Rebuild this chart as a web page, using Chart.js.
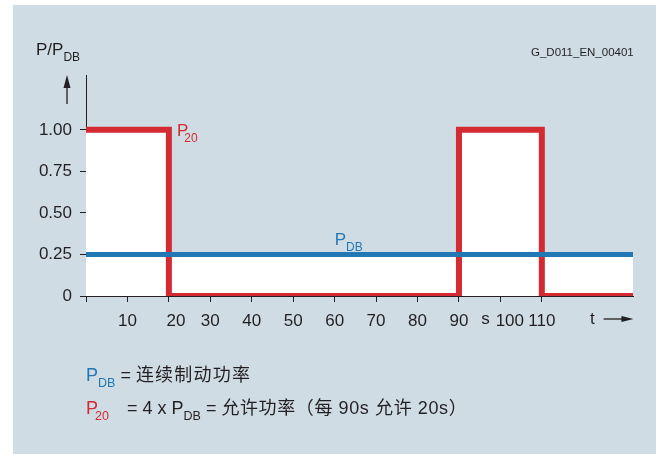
<!DOCTYPE html>
<html>
<head>
<meta charset="utf-8">
<script src="https://cdn.jsdelivr.net/npm/chart.js@4/dist/chart.umd.min.js"></script>
<style>
  body { margin: 0; background: #fff; }
  #bg { position: absolute; left: 13px; top: 5px; width: 643px; height: 449px; background: #cfdce4; }
  #wrap { position: absolute; left: 0; top: 0; width: 656px; height: 454px; }
  .txt { position: absolute; font-family: "Liberation Sans", "Noto Sans CJK SC", sans-serif; color: #231f20; white-space: nowrap; line-height: 1; }
  .sub { font-size: 12.5px; position: relative; top: 6px; }
  .sub20 { margin-left: -3px; }
</style>
</head>
<body>
<div id="bg"></div>
<div id="wrap"><canvas id="chart" width="656" height="454"></canvas></div>

<!-- Подписи вне области графика -->
<div class="txt" style="left:36px;top:41px;font-size:17px">P/P<span class="sub" style="font-size:12px">DB</span></div>
<div class="txt" style="left:531px;top:47px;font-size:11.5px">G_D011_EN_00401</div>
<div class="txt" style="left:86px;top:366px;font-size:18px"><span style="color:#2178b5">P<span class="sub">DB</span></span> = <span style="letter-spacing:1.2px">连续制动功率</span></div>
<div class="txt" style="left:86px;top:399px;font-size:18px;color:#d42a32">P<span class="sub sub20">20</span></div>
<div class="txt" style="left:127px;top:399px;font-size:18px">= 4 x P<span class="sub">DB</span> = <span style="letter-spacing:0.6px">允许功率（每 90s 允许 20s）</span></div>

<script>
// Данные графика
const timePoints = [0, 20, 90, 110, 132];
const p20 = [1, 0, 1, 0, 0];
const pdbTime = [0, 132];
const pdb = [0.25, 0.25];

const xTicks = [0, 10, 20, 30, 40, 50, 60, 70, 80, 90, 100, 110];
const xLabels = ["", "10", "   20", "30", "40", "50", "60", "70", "80", "90", "    100", "110"];
const yTicks = [0, 0.25, 0.5, 0.75, 1];
const yLabels = ["0", "0.25", "0.50", "0.75", "1.00"];

const RED = "#d42a32";
const BLUE = "#2178b5";
const INK = "#231f20";
const FONT = '"Liberation Sans", Arial, sans-serif';

// Белая заливка под max(P20, PDB)
const envelope = timePoints.map((t, i) => ({ x: t, y: Math.max(p20[i], pdb[0]) }));

// Подпись с нижним индексом
const drawSub = (ctx, x, y, main, sub, color, tuck) => {
  ctx.fillStyle = color;
  ctx.textBaseline = "alphabetic";
  ctx.textAlign = "left";
  ctx.font = `17px ${FONT}`;
  ctx.fillText(main, x, y);
  const w = ctx.measureText(main).width;
  ctx.font = `12px ${FONT}`;
  ctx.fillText(sub, x + w - tuck, y + 6);
};

const labelsPlugin = {
  id: "labels",
  afterDraw(chart) {
    const { ctx, scales: { x, y }, chartArea } = chart;
    ctx.save();
    drawSub(ctx, x.getPixelForValue(20) + 8, y.getPixelForValue(1) + 6, "P", "20", RED, 4);
    drawSub(ctx, x.getPixelForValue(60), y.getPixelForValue(0.25) - 9, "P", "DB", BLUE, 0);

    // единица времени и ось t
    const ty = x.top + 6 + 9;
    ctx.fillStyle = INK;
    ctx.font = `17px ${FONT}`;
    ctx.textAlign = "center";
    ctx.textBaseline = "top";
    ctx.fillText("s", x.getPixelForValue(96.4), ty);
    ctx.fillText("t", x.getPixelForValue(122.2), ty);

    const ay = ty + 8;
    const ax0 = x.getPixelForValue(124.9), ax1 = x.getPixelForValue(132.1);
    ctx.strokeStyle = INK;
    ctx.lineWidth = 1.3;
    ctx.beginPath();
    ctx.moveTo(ax0, ay);
    ctx.lineTo(ax1 - 8, ay);
    ctx.stroke();
    ctx.beginPath();
    ctx.moveTo(ax1, ay);
    ctx.lineTo(ax1 - 12, ay - 3);
    ctx.lineTo(ax1 - 12, ay + 3);
    ctx.closePath();
    ctx.fill();

    // стрелка вверх у оси P/PDB
    const vx = chartArea.left - 19;
    const vy = chartArea.top;
    ctx.beginPath();
    ctx.moveTo(vx, vy + 29);
    ctx.lineTo(vx, vy + 10);
    ctx.stroke();
    ctx.beginPath();
    ctx.moveTo(vx, vy);
    ctx.lineTo(vx - 3.5, vy + 13);
    ctx.lineTo(vx + 3.5, vy + 13);
    ctx.closePath();
    ctx.fill();
    ctx.restore();
  },
};

const config = {
  type: "line",
  data: {
    datasets: [
      {
        label: "PDB",
        data: pdbTime.map((t, i) => ({ x: t, y: pdb[i] })),
        borderColor: BLUE,
        borderWidth: 5,
        pointRadius: 0,
        fill: false,
        order: 1,
      },
      {
        label: "P20",
        data: timePoints.map((t, i) => ({ x: t, y: p20[i] })),
        stepped: true,
        borderColor: RED,
        borderWidth: 6,
        borderJoinStyle: "miter",
        pointRadius: 0,
        fill: false,
        order: 2,
      },
      {
        label: "fill",
        data: envelope,
        stepped: true,
        borderWidth: 0,
        borderColor: "rgba(0,0,0,0)",
        backgroundColor: "#ffffff",
        pointRadius: 0,
        fill: "origin",
        order: 3,
      },
    ],
  },
  options: {
    responsive: false,
    animation: false,
    layout: { padding: { top: 75, right: 23, left: 0, bottom: 0 } },
    scales: {
      x: {
        type: "linear",
        min: 0,
        max: 132,
        afterBuildTicks: (s) => { s.ticks = xTicks.map((v) => ({ value: v })); },
        afterFit: (s) => { s.height = 158; },
        ticks: {
          autoSkip: false,
          maxRotation: 0,
          padding: 9,
          color: INK,
          font: { family: FONT, size: 17 },
          callback: (v, i) => xLabels[i],
        },
        grid: { drawOnChartArea: false, drawTicks: true, tickLength: 6, color: INK },
        border: { color: INK, width: 1 },
      },
      y: {
        min: 0,
        max: 1.33,
        afterBuildTicks: (s) => { s.ticks = yTicks.map((v) => ({ value: v })); },
        afterFit: (s) => { s.width = 86; },
        ticks: {
          padding: 8,
          color: INK,
          font: { family: FONT, size: 17 },
          callback: (v, i) => yLabels[i],
        },
        grid: { drawOnChartArea: false, drawTicks: true, tickLength: 6, color: INK },
        border: { color: INK, width: 1 },
      },
    },
    plugins: {
      legend: { display: false },
      tooltip: { enabled: false },
    },
  },
  plugins: [labelsPlugin],
};

const ctx = document.querySelector("#chart").getContext("2d");
const chart = new Chart(ctx, config);
</script>
</body>
</html>
